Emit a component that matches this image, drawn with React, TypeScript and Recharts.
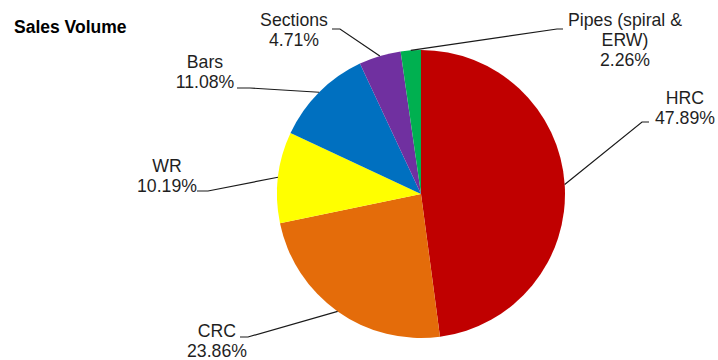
import { PieChart, Pie, Cell } from "recharts";

// sales volume share by product, percent
const categories = ["HRC", "CRC", "WR", "Bars", "Sections", "Pipes (spiral & ERW)"];
const shares = [47.89, 23.86, 10.19, 11.08, 4.71, 2.26];
const colors = ["#C00000", "#E46C0A", "#FFFF00", "#0070C0", "#7030A0", "#00B050"];

const data = categories.map((name, i) => ({ name, value: shares[i] }));

// label placement relative to the pie centre: text centre + first baseline,
// leader end (next to the text) and elbow point
const labelLayout = [
  { tx: 264, ty: -90, ex: 228, ey: -72, bx: 221, by: -72, lines: ["HRC"] },
  { tx: -204, ty: 143, ex: -181, ey: 143, bx: -173, by: 143, lines: ["CRC"] },
  { tx: -254, ty: -22, ex: -224, ey: -3, bx: -213, by: -3, lines: ["WR"] },
  { tx: -216, ty: -126, ex: -184, ey: -106, bx: -171, by: -106, lines: ["Bars"] },
  { tx: -127, ty: -168, ex: -89, ey: -165, bx: -81, by: -165, lines: ["Sections"] },
  { tx: 204, ty: -168, ex: 142, ey: -165, bx: 136, by: -165, lines: ["Pipes (spiral &", "ERW)"] },
];

const RAD = Math.PI / 180;
const FONT = "'Liberation Sans', Arial, sans-serif";

function renderLabel(props: any) {
  const { cx, cy, midAngle, outerRadius, index, value } = props;
  const l = labelLayout[index];
  const px = cx + outerRadius * Math.cos(-midAngle * RAD);
  const py = cy + outerRadius * Math.sin(-midAngle * RAD);
  const lines = [...l.lines, `${Number(value).toFixed(2)}%`];
  return (
    <g key={`lbl-${index}`}>
      <polyline
        points={`${px},${py} ${cx + l.bx},${cy + l.by} ${cx + l.ex},${cy + l.ey}`}
        fill="none"
        stroke="#1a1a1a"
        strokeWidth={1.2}
      />
      <text
        x={cx + l.tx}
        y={cy + l.ty}
        textAnchor="middle"
        fontFamily={FONT}
        fontSize={17.7}
        fill="#1f1f1f"
      >
        {lines.map((t, i) => (
          <tspan key={i} x={cx + l.tx} dy={i === 0 ? 0 : 20}>
            {t}
          </tspan>
        ))}
      </text>
    </g>
  );
}

export default function App() {
  return (
    <div style={{ position: "absolute", left: 0, top: 0, width: 718, height: 360, background: "#fff" }}>
      <div
        style={{
          position: "absolute",
          left: 14,
          top: 18,
          fontFamily: FONT,
          fontWeight: "bold",
          fontSize: 17.5,
          color: "#000",
          lineHeight: "19px",
        }}
      >
        Sales Volume
      </div>
      <PieChart width={718} height={360} margin={{ top: 0, right: 0, bottom: 0, left: 0 }}>
        <Pie
          data={data}
          dataKey="value"
          nameKey="name"
          cx={421}
          cy={194}
          outerRadius={144}
          startAngle={90}
          endAngle={-270}
          stroke="none"
          label={renderLabel}
          labelLine={false}
          isAnimationActive={false}
        >
          {data.map((entry, i) => (
            <Cell key={`cell-${i}`} fill={colors[i]} />
          ))}
        </Pie>
      </PieChart>
    </div>
  );
}
